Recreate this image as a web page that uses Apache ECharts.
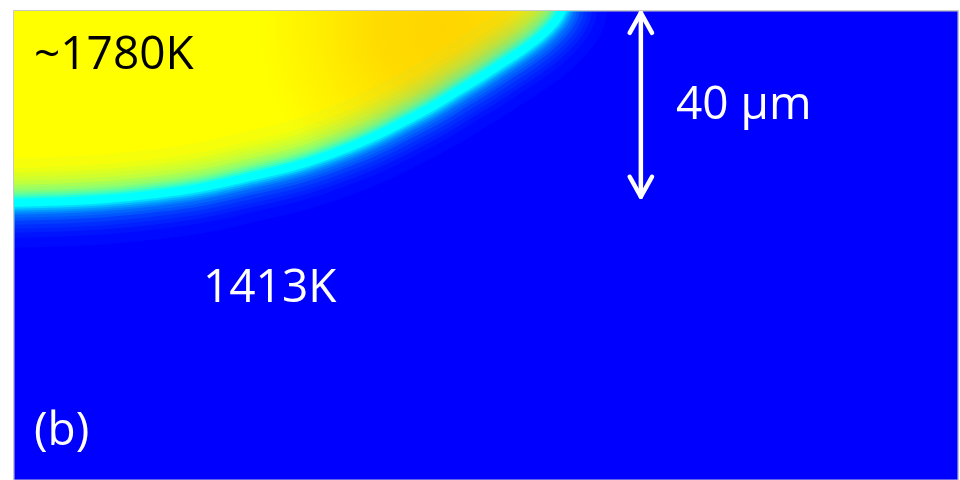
<!DOCTYPE html>
<html>
<head>
<meta charset="utf-8">
<script src="https://cdn.jsdelivr.net/npm/echarts@6/dist/echarts.min.js"></script>
<style>
html,body{margin:0;padding:0;background:#fff;}
#c{width:960px;height:480px;}
</style>
</head>
<body>
<div id="c"></div>
<script>
// Melt-pool boundary (µm): horizontal position and depth below top surface
const boundaryX     = [0, 7.7, 18.5, 29.2, 40.0, 50.8, 61.5, 72.3, 78.7, 83.0, 89.5, 95.9, 100.2, 104.5, 108.8, 113.1, 116.3, 117.8];
const boundaryDepth = [41.3, 41.1, 40.6, 39.6, 38.1, 35.7, 33.1, 29.3, 26.5, 24.3, 20.9, 17.0, 14.4, 11.6, 8.8, 5.6, 2.4, 0];
// Domain size (µm)
const domainWidth = 203;
const domainDepth = 101;
// Scale bar (µm)
const scaleBarX = 134.8;
const scaleBarTop = 0.4;
const scaleBarBottom = 40;
const scaleBarLabel = '40 µm';
// Temperature labels
const peakLabel = '~1780K';
const solidLabel = '1413K';
const panelLabel = '(b)';

const boundary = boundaryX.map((x, i) => [x, boundaryDepth[i]]);
const headHalfW = 2.4, headLen = 4.3;

// Transition band around the boundary (stroke width px, cyan opacity)
const bandWidths = [90, 70, 60, 52, 44, 36, 30, 24, 20, 16, 12, 8];
const bandAlphas = [0.035, 0.045, 0.06, 0.06, 0.08, 0.125, 0.114, 0.16, 0.19, 0.29, 0.5, 1];

const GL = 14, GT = 11, GR = 958, GB = 480;

const chart = echarts.init(document.getElementById('c'), null, {renderer: 'canvas'});
const font = '"Open Sans", "Noto Sans", sans-serif';

const bandSeries = bandWidths.map((w, i) => ({
  name: 'band ' + w, type: 'line', data: boundary, smooth: 0.4, symbol: 'none', clip: true, silent: true,
  lineStyle: { color: 'rgba(0,255,255,' + bandAlphas[i] + ')', width: w, cap: 'round', join: 'round' },
  z: 3
}));

const option = {
  animation: false,
  backgroundColor: '#ffffff',
  grid: {
    left: GL, top: GT, right: 960 - GR, bottom: 0,
    show: true, backgroundColor: '#0000FF', borderColor: '#c8c8c8', borderWidth: 1
  },
  xAxis: { type: 'value', min: 0, max: domainWidth, show: false },
  yAxis: { type: 'value', min: 0, max: domainDepth, inverse: true, show: false },
  series: [
    {
      name: 'melt pool', type: 'line', data: boundary, smooth: 0.4, symbol: 'none', clip: true,
      lineStyle: { width: 0 },
      areaStyle: {
        origin: 'start', opacity: 1,
        color: new echarts.graphic.RadialGradient(0.78, 0.08, 0.95, [
          { offset: 0, color: '#FFD500' },
          { offset: 0.35, color: '#FFDB00' },
          { offset: 0.7, color: '#FFF000' },
          { offset: 1, color: '#FFFF00' }
        ])
      },
      z: 2
    }
  ].concat(bandSeries).concat([
    {
      name: 'scale bar', type: 'line', symbol: 'none', clip: false,
      data: [[scaleBarX, scaleBarTop], [scaleBarX, scaleBarBottom]],
      lineStyle: { color: '#ffffff', width: 4.5, cap: 'round' }, z: 5
    },
    {
      name: 'head top', type: 'line', symbol: 'none', clip: false,
      data: [[scaleBarX - headHalfW, scaleBarTop + headLen], [scaleBarX, scaleBarTop], [scaleBarX + headHalfW, scaleBarTop + headLen]],
      lineStyle: { color: '#ffffff', width: 4.5, cap: 'round', join: 'round' }, z: 5
    },
    {
      name: 'head bottom', type: 'line', symbol: 'none', clip: false,
      data: [[scaleBarX - headHalfW, scaleBarBottom - headLen], [scaleBarX, scaleBarBottom], [scaleBarX + headHalfW, scaleBarBottom - headLen]],
      lineStyle: { color: '#ffffff', width: 4.5, cap: 'round', join: 'round' }, z: 5
    }
  ]),
  graphic: [
    // white margins (hide glow spilling beyond plot) and plot frame
    { type: 'rect', z: 100, silent: true, shape: { x: 0, y: 0, width: 960, height: GT }, style: { fill: '#ffffff' } },
    { type: 'rect', z: 100, silent: true, shape: { x: 0, y: 0, width: GL, height: 480 }, style: { fill: '#ffffff' } },
    { type: 'rect', z: 101, silent: true, shape: { x: GL - 0.5, y: GT - 0.5, width: GR - GL + 1, height: GB - GT + 2 }, style: { fill: null, stroke: '#c8c8c8', lineWidth: 1 } },
    { type: 'text', x: 34, y: 56, z: 110, style: { text: peakLabel, font: '46px ' + font, fill: '#000000', verticalAlign: 'middle' } },
    { type: 'text', x: 676, y: 106, z: 110, style: { text: scaleBarLabel, font: '46px ' + font, fill: '#ffffff', verticalAlign: 'middle' } },
    { type: 'text', x: 203, y: 289, z: 110, style: { text: solidLabel, font: '46px ' + font, fill: '#ffffff', verticalAlign: 'middle' } },
    { type: 'text', x: 34, y: 432, z: 110, style: { text: panelLabel, font: '46px ' + font, fill: '#ffffff', verticalAlign: 'middle' } }
  ]
};
chart.setOption(option);
</script>
</body>
</html>
